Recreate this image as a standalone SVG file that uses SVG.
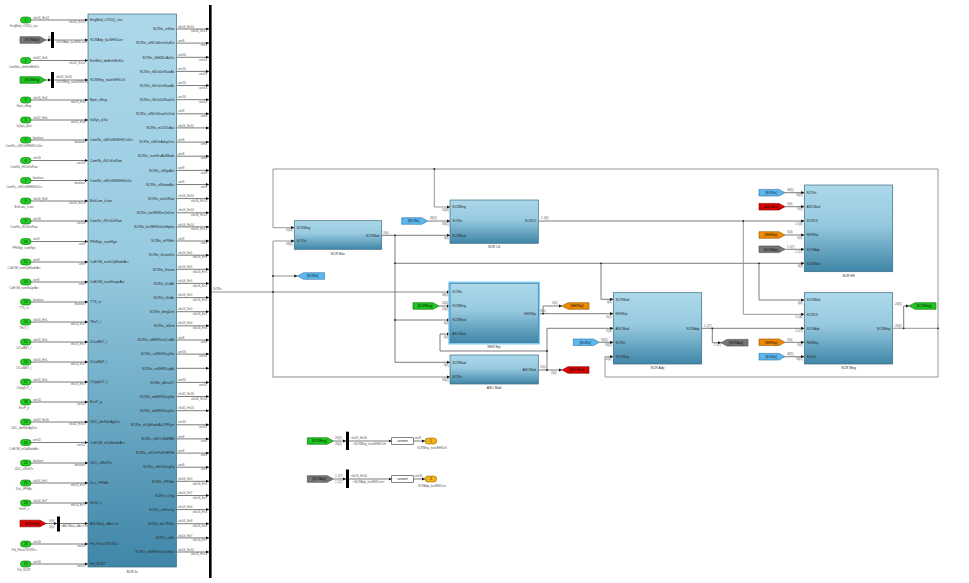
<svg xmlns="http://www.w3.org/2000/svg" xmlns:xlink="http://www.w3.org/1999/xlink" width="969" height="583" viewBox="0 0 969 583">
<style>
.t{font-family:"Liberation Sans",Arial,sans-serif;font-size:3.4px;fill:#2a2a2a}
.s{font-family:"Liberation Sans",Arial,sans-serif;font-size:2.9px;fill:#555}
.k{font-family:"Liberation Sans",Arial,sans-serif;font-size:3.2px;fill:#111}
.e{text-anchor:end}
.m{text-anchor:middle}
.w{stroke:#5a5a5a;stroke-width:0.8;fill:none}
.wa{marker-end:url(#ar)}
.fb{stroke:#8c8c8c;stroke-width:0.9;fill:none}
.bus{stroke:#b2b2b2;stroke-width:1.4;fill:none}
.blk{fill:url(#gb);stroke:#3b6b82;stroke-width:0.7}
.inp{fill:#22cc22;stroke:#0a7a0a;stroke-width:0.6}
.outp{fill:#f2b21a;stroke:#9a6a00;stroke-width:0.6}
.tg{stroke-width:0.6}
.green{fill:#1ec81e;stroke:#0a6a0a}
.gray{fill:#767676;stroke:#444}
.red{fill:#e00000;stroke:#7a0000}
.blue{fill:#5cb8f0;stroke:#2a6fa0}
.orange{fill:#f08a00;stroke:#905000}
.dot{fill:#222}
</style>
<defs>
<linearGradient id="gb" x1="0" y1="0" x2="0" y2="1">
<stop offset="0" stop-color="#acd8ea"/>
<stop offset="0.45" stop-color="#97cae0"/>
<stop offset="1" stop-color="#3f86a7"/>
</linearGradient>
<marker id="ar" viewBox="0 0 6 6" refX="6" refY="3" markerWidth="3.2" markerHeight="3.2" orient="auto" markerUnits="userSpaceOnUse">
<path d="M0,0L6,3L0,6Z" fill="#111"/>
</marker>
<path id="fr" d="M0,-3.3H20L26,0L20,3.3H0Z"/>
<path id="gt" d="M0,0L6,-3.3H27V3.3H6Z"/>
</defs>
<rect width="969" height="583" fill="#ffffff"/>

<!-- ================= CONNECTORS ================= -->
<g id="connectors">
<!-- inport wires -->
<path class="w wa" d="M31,20H88"/><path class="w wa" d="M31,60.5H88"/><path class="w wa" d="M31,100H88"/><path class="w wa" d="M31,120H88"/><path class="w wa" d="M31,140H88"/><path class="w wa" d="M31,160.5H88"/><path class="w wa" d="M31,180.5H88"/><path class="w wa" d="M31,201H88"/><path class="w wa" d="M31,221H88"/><path class="w wa" d="M31,241.5H88"/><path class="w wa" d="M31,262H88"/><path class="w wa" d="M31,282H88"/><path class="w wa" d="M31,302H88"/><path class="w wa" d="M31,322H88"/><path class="w wa" d="M31,342H88"/><path class="w wa" d="M31,362H88"/><path class="w wa" d="M31,382H88"/><path class="w wa" d="M31,402H88"/><path class="w wa" d="M31,422H88"/><path class="w wa" d="M31,442.5H88"/><path class="w wa" d="M31,463H88"/><path class="w wa" d="M31,483H88"/><path class="w wa" d="M31,503H88"/><path class="w wa" d="M31,544H88"/><path class="w wa" d="M31,564H88"/>
<!-- from-tag wires on left -->
<path class="w wa" d="M46,40H51"/><path class="bus wa" d="M54,40H88"/>
<path class="w wa" d="M46,80H51"/><path class="w wa" d="M54,80H88"/>
<path class="w wa" d="M46,523.5H57"/><path class="w wa" d="M60,523.5H88"/>
<g class="s">
<text x="33" y="18.5">sfix16_En14</text><text class="e" x="85" y="23.2">sfix16_En14</text>
<text x="48" y="38.5">[1]</text><text x="56" y="43">&lt;SCRAdp_facNH3Corr&gt;</text>
<text x="33" y="59">sfix32_En6</text><text class="e" x="85" y="63.7">sfix32_En10</text>
<text x="56" y="77.5">sfix32_En16</text><text x="56" y="83">&lt;SCRMng_stateNH3Ctrl&gt;</text>
<text x="33" y="98.5">sfix16_En4</text><text class="e" x="85" y="103.2">sfix16_En4</text>
<text x="33" y="118.5">sfix32_En6</text><text class="e" x="85" y="123.2">sfix32_En6</text>
<text x="33" y="138.5">boolean</text><text class="e" x="85" y="143.2">boolean</text>
<text x="33" y="159">uint16</text><text class="e" x="85" y="163.7">uint16</text>
<text x="33" y="179">boolean</text><text class="e" x="85" y="183.7">boolean</text>
<text x="33" y="199.5">sfix16_En8</text><text class="e" x="85" y="204.2">sfix16_En14</text>
<text x="33" y="219.5">uint16</text><text class="e" x="85" y="224.2">uint16</text>
<text x="33" y="240">uint8</text><text class="e" x="85" y="244.7">uint8</text>
<text x="33" y="260.5">uint8</text><text class="e" x="85" y="265.2">uint8</text>
<text x="33" y="280.5">uint8</text><text class="e" x="85" y="285.2">uint8</text>
<text x="33" y="300.5">boolean</text><text class="e" x="85" y="305.2">boolean</text>
<text x="33" y="320.5">sfix16_En5</text><text class="e" x="85" y="325.2">sfix16_En5</text>
<text x="33" y="340.5">sfix16_En5</text><text class="e" x="85" y="345.2">sfix16_En5</text>
<text x="33" y="360.5">sfix16_En5</text><text class="e" x="85" y="365.2">sfix16_En5</text>
<text x="33" y="380.5">sfix16_En5</text><text class="e" x="85" y="385.2">sfix16_En5</text>
<text x="33" y="400.5">uint16</text><text class="e" x="85" y="405.2">uint16</text>
<text x="33" y="420.5">sfix32_En16</text><text class="e" x="85" y="425.2">sfix32_En16</text>
<text x="33" y="441">uint32</text><text class="e" x="85" y="445.7">uint32</text>
<text x="33" y="461.5">boolean</text><text class="e" x="85" y="466.2">boolean</text>
<text x="33" y="481.5">sfix16_En5</text><text class="e" x="85" y="486.2">sfix16_En5</text>
<text x="33" y="501.5">sfix16_En7</text><text class="e" x="85" y="506.2">sfix16_En7</text>
<text x="49" y="521.5">S(0)</text><text x="49" y="528">S(0)</text><text x="61" y="527">&lt;ASCMod_stAscOx&gt;</text>
<text x="33" y="542.5">uint16</text><text class="e" x="85" y="547.2">uint16</text>
<text x="33" y="562.5">uint16</text><text class="e" x="85" y="567.2">uint16</text>
</g>
<!-- output wires to bus bar -->
<path class="w wa" d="M176.5,29H209"/><path class="w wa" d="M176.5,43.1H209"/><path class="w wa" d="M176.5,57.3H209"/><path class="w wa" d="M176.5,71.4H209"/><path class="w wa" d="M176.5,85.5H209"/><path class="w wa" d="M176.5,99.7H209"/><path class="w wa" d="M176.5,113.8H209"/><path class="w wa" d="M176.5,127.9H209"/><path class="w wa" d="M176.5,142.1H209"/><path class="w wa" d="M176.5,156.2H209"/><path class="w wa" d="M176.5,170.4H209"/><path class="w wa" d="M176.5,184.5H209"/><path class="w wa" d="M176.5,198.6H209"/><path class="w wa" d="M176.5,212.8H209"/><path class="w wa" d="M176.5,226.9H209"/><path class="w wa" d="M176.5,241H209"/><path class="w wa" d="M176.5,255.2H209"/><path class="w wa" d="M176.5,269.3H209"/><path class="w wa" d="M176.5,283.4H209"/><path class="w wa" d="M176.5,297.6H209"/><path class="w wa" d="M176.5,311.7H209"/><path class="w wa" d="M176.5,325.8H209"/><path class="w wa" d="M176.5,340H209"/><path class="w wa" d="M176.5,354.1H209"/><path class="w wa" d="M176.5,368.3H209"/><path class="w wa" d="M176.5,382.4H209"/><path class="w wa" d="M176.5,396.5H209"/><path class="w wa" d="M176.5,410.7H209"/><path class="w wa" d="M176.5,424.8H209"/><path class="w wa" d="M176.5,438.9H209"/><path class="w wa" d="M176.5,453.1H209"/><path class="w wa" d="M176.5,467.2H209"/><path class="w wa" d="M176.5,481.3H209"/><path class="w wa" d="M176.5,495.5H209"/><path class="w wa" d="M176.5,509.6H209"/><path class="w wa" d="M176.5,523.7H209"/><path class="w wa" d="M176.5,537.9H209"/><path class="w wa" d="M176.5,552H209"/>
<g class="s">
<text x="178" y="27.6">sfix16_En14</text><text class="e" x="207" y="32.2">sfix16_En14</text>
<text x="178" y="41.7">uint8</text><text class="e" x="207" y="46.3">uint8</text>
<text x="178" y="55.9">uint16</text><text class="e" x="207" y="60.5">uint16</text>
<text x="178" y="70">uint16</text><text class="e" x="207" y="74.6">uint16</text>
<text x="178" y="84.1">uint16</text><text class="e" x="207" y="88.7">uint16</text>
<text x="178" y="98.3">uint16</text><text class="e" x="207" y="102.9">uint16</text>
<text x="178" y="112.4">uint8</text><text class="e" x="207" y="117">uint8</text>
<text x="178" y="126.5">sfix16_En12</text>
<text x="178" y="140.7">uint8</text><text class="e" x="207" y="145.3">uint8</text>
<text x="178" y="154.8">uint8</text><text class="e" x="207" y="159.4">uint8</text>
<text x="178" y="169">uint8</text><text class="e" x="207" y="173.6">uint8</text>
<text x="178" y="183.1">uint8</text><text class="e" x="207" y="187.7">uint8</text>
<text x="178" y="197.2">sfix16_En14</text><text class="e" x="207" y="201.8">sfix16_En14</text>
<text x="178" y="211.4">sfix16_En14</text><text class="e" x="207" y="216">sfix16_En14</text>
<text x="178" y="225.5">sfix16_En14</text><text class="e" x="207" y="230.1">sfix16_En14</text>
<text x="178" y="239.6">uint8</text><text class="e" x="207" y="244.2">uint8</text>
<text x="178" y="253.8">sfix16_En5</text><text class="e" x="207" y="258.4">sfix16_En5</text>
<text x="178" y="267.9">sfix16_En5</text><text class="e" x="207" y="272.5">sfix16_En5</text>
<text x="178" y="282">sfix16_En5</text><text class="e" x="207" y="286.6">sfix16_En5</text>
<text x="178" y="296.2">sfix16_En5</text><text class="e" x="207" y="300.8">sfix16_En5</text>
<text x="178" y="310.3">sfix16_En5</text><text class="e" x="207" y="314.9">sfix16_En5</text>
<text x="178" y="324.4">sfix16_En4</text><text class="e" x="207" y="329">sfix16_En4</text>
<text x="178" y="338.6">uint8</text><text class="e" x="207" y="343.2">uint8</text>
<text x="178" y="352.7">uint16</text><text class="e" x="207" y="357.3">uint16</text>
<text x="178" y="381">uint32</text><text class="e" x="207" y="385.6">uint32</text>
<text x="178" y="395.1">sfix32_En16</text><text class="e" x="207" y="399.7">sfix32_En16</text>
<text x="178" y="409.3">sfix32_En16</text>
<text x="178" y="423.4">uint32</text><text class="e" x="207" y="428">uint32</text>
<text x="178" y="437.5">uint8</text><text class="e" x="207" y="442.1">uint8</text>
<text x="178" y="451.7">uint8</text><text class="e" x="207" y="456.3">uint8</text>
<text x="178" y="465.8">uint8</text><text class="e" x="207" y="470.4">uint8</text>
<text x="178" y="479.9">sfix16_En5</text><text class="e" x="207" y="484.5">sfix16_En5</text>
<text x="178" y="494.1">sfix16_En7</text><text class="e" x="207" y="498.7">sfix16_En7</text>
<text x="178" y="508.2">sfix16_En4</text><text class="e" x="207" y="512.8">sfix16_En4</text>
<text x="178" y="522.3">sfix16_En8</text><text class="e" x="207" y="526.9">sfix16_En8</text>
<text x="178" y="536.5">sfix16_En7</text><text class="e" x="207" y="541.1">sfix16_En7</text>
<text x="178" y="550.6">sfix16_En14</text><text class="e" x="207" y="555.2">sfix16_En14</text>
</g>

<!-- SCRIn bus -->
<path class="bus" d="M211.5,292H273"/>
<path class="bus wa" d="M273,292H450"/>
<path class="bus wa" d="M273,241V377H450"/>
<path class="bus wa" d="M273,241H294.3"/>
<path class="bus wa" d="M273,276H297.5"/>
<circle class="dot" cx="273" cy="276" r="0.9"/><circle class="dot" cx="273" cy="292" r="0.9"/>
<text class="s" x="213" y="290.2">SCRIn</text>

<!-- SCRMng feedback -->
<path class="fb wa" d="M892.7,328.3H938V169H273V227.7H294.3"/>
<path class="fb wa" d="M434.3,169V207H450"/>
<path class="fb wa" d="M938,328.3V377H605V356.7H613.3"/>
<path class="w wa" d="M903.7,328.3V306H909"/>
<circle class="dot" cx="434.3" cy="169" r="0.9"/><circle class="dot" cx="938" cy="328.3" r="0.9"/><circle class="dot" cx="903.7" cy="328.3" r="0.9"/>

<!-- SCRMod from SCR Moc -->
<path class="w wa" d="M381.7,235.3H450"/>
<path class="w wa" d="M395,235.3V362.3H450"/>
<path class="w wa" d="M395,320H450"/>
<path class="w wa" d="M395,263.3H804.3"/>
<path class="w wa" d="M601,263.3V299.3H613.3"/>
<path class="w wa" d="M759,263.3V300H804.3"/>
<circle class="dot" cx="395" cy="235.3" r="0.9"/><circle class="dot" cx="395" cy="263.3" r="0.9"/><circle class="dot" cx="395" cy="320" r="0.9"/><circle class="dot" cx="601" cy="263.3" r="0.9"/><circle class="dot" cx="759" cy="263.3" r="0.9"/>

<!-- SCRCtl -->
<path class="w wa" d="M538.3,221H804.3"/>
<path class="fb wa" d="M743.3,221V314.3H804.3"/>
<circle class="dot" cx="743.3" cy="221" r="0.9"/>

<!-- NH3Stp -->
<path class="w wa" d="M538.3,313.7H613.3"/>
<path class="w wa" d="M543,313.7V306H562"/>
<circle class="dot" cx="543" cy="313.7" r="0.9"/>

<!-- ASCMod -->
<path class="w wa" d="M538.3,370H562"/>
<path class="w wa" d="M547,370V328.3H613.3"/>
<path class="w wa" d="M547,351H440V334H450"/>
<circle class="dot" cx="547" cy="370" r="0.9"/><circle class="dot" cx="547" cy="351" r="0.9"/>

<!-- SCRAdp -->
<path class="w wa" d="M701.7,328.3H804.3"/>
<path class="w wa" d="M712.3,328.3V342.7H721"/>
<circle class="dot" cx="712.3" cy="328.3" r="0.9"/>

<!-- From tag wires in middle/right -->
<path class="w wa" d="M427.7,221H450"/>
<path class="w wa" d="M439,306H450"/>
<path class="w wa" d="M599.3,342.3H613.3"/>
<path class="w wa" d="M785,192.7H804.3"/>
<path class="w wa" d="M785,206.7H804.3"/>
<path class="w wa" d="M785,235H804.3"/>
<path class="w wa" d="M785,249.3H804.3"/>
<path class="w wa" d="M785,342.3H804.3"/>
<path class="w wa" d="M785,356.7H804.3"/>

<g class="s">
<text class="e" x="292.5" y="231">20[0]</text><text class="e" x="292.5" y="244.5">36[5]</text><text x="383" y="233.5">X(0)</text>
<text class="e" x="448.5" y="210.5">20[0]</text><text x="430" y="219.3">36[5]</text><text class="e" x="448.5" y="225">36[5]</text><text class="e" x="448.5" y="239">0[0]</text><text x="541" y="219.3">1.1(6)</text>
<text class="e" x="448.5" y="295.5">36[5]</text><text class="e" x="448.5" y="304">20[0]</text><text class="e" x="448.5" y="309.5">20[0]</text><text class="e" x="448.5" y="323.5">0[0]</text><text class="e" x="448.5" y="337.5">0[0]</text>
<text x="540" y="311.8">X(0)</text><text x="552" y="304.3">X(0)</text>
<text class="e" x="448.5" y="365.8">0[0]</text><text class="e" x="448.5" y="380.5">36[5]</text><text x="540" y="368.3">X(0)</text><text x="551" y="373.5">X(0)</text>
<text class="e" x="611.5" y="302.8">0[0]</text><text class="e" x="611.5" y="317.5">X(0)</text><text class="e" x="611.5" y="331.8">X(0)</text><text x="601" y="340.6">36[5]</text><text class="e" x="611.5" y="345.8">36[5]</text><text class="e" x="611.5" y="360.2">20[0]</text>
<text x="704" y="326.6">1.1(7)</text><text x="713.5" y="346">1.1(7)</text>
<text x="787" y="191">36[5]</text><text class="e" x="802.5" y="196.2">36[5]</text>
<text x="787" y="205">X(0)</text><text class="e" x="802.5" y="210.2">X(0)</text>
<text class="e" x="802.5" y="224.5">1.1(6)</text>
<text x="787" y="233.3">X(0)</text><text class="e" x="802.5" y="238.5">X(0)</text>
<text x="787" y="247.6">1.1(7)</text><text class="e" x="802.5" y="252.8">1.1(7)</text>
<text class="e" x="802.5" y="266.8">0[0]</text>
<text class="e" x="802.5" y="303.5">0[0]</text><text class="e" x="802.5" y="317.8">1.1(6)</text><text class="e" x="802.5" y="331.8">1.1(7)</text>
<text x="787" y="340.6">X(0)</text><text class="e" x="802.5" y="345.8">X(0)</text>
<text x="787" y="355">36[5]</text><text class="e" x="802.5" y="360.2">36[5]</text>
<text x="895" y="326.6">20[0]</text><text x="895" y="304.5">20[0]</text>
</g>

<!-- bottom section wires -->
<path class="w wa" d="M333.3,441H346"/>
<path class="w wa" d="M349.2,441H391.7"/>
<path class="w wa" d="M413.3,441H425"/>
<path class="w wa" d="M333.3,479H346"/>
<path class="w wa" d="M349.2,479H391.7"/>
<path class="w wa" d="M413.3,479H425"/>
<g class="s">
<text x="335" y="439.3">20[0]</text><text x="335" y="445">20[0]</text><text x="351" y="439.3">sfix32_En16</text><text x="353" y="445">&lt;SCRMng_stateNH3Ctrl&gt;</text>
<text x="414.5" y="439.3">uint8</text>
<text x="335" y="477.3">1.1(7)</text><text x="335" y="483">1.1(7)</text><text x="351" y="477.3">sfix16_En14</text><text x="353" y="483">&lt;SCRAdp_facNH3Corr&gt;</text>
<text x="414.5" y="477.3">uint16</text>
</g>
</g>

<!-- ================= NODES ================= -->
<!-- bus bar -->
<g id="busbar"><rect x="209" y="5" width="2.6" height="573" fill="#000"/></g>

<!-- SCR In subsystem -->
<g id="scr_in">
<rect class="blk" x="88" y="14" width="88.5" height="553"/>
<text class="t m" x="132" y="572.5">SCR In</text>
<g class="t">
<text x="90" y="21.2">EngMod_rO2DQ_nac</text>
<text x="90" y="41.2">SCRAdp_facNH3Corr</text>
<text x="90" y="61.7">ExhMnf_dmExhMnfDs</text>
<text x="90" y="81.2">SCRMng_stateNH3Ctrl</text>
<text x="90" y="101.2">Epm_nEng</text>
<text x="90" y="121.2">InjSys_qTot</text>
<text x="90" y="141.2">ComRx_stNOxWtNH3CtsDs</text>
<text x="90" y="161.7">ComRx_rNOxDsRaw</text>
<text x="90" y="181.7">ComRx_stNOxWtNH3UsDs</text>
<text x="90" y="202.2">ExhLam_rLam</text>
<text x="90" y="222.2">ComRx_rNOxUsRaw</text>
<text x="90" y="242.7">PFltRgn_numRgn</text>
<text x="90" y="263.2">CoEOM_numOpModeAct</text>
<text x="90" y="283.2">CoEOM_numStageAct</text>
<text x="90" y="303.2">TTS_st</text>
<text x="90" y="323.2">TExT_t</text>
<text x="90" y="343.2">UCatBlkT_t</text>
<text x="90" y="363.2">UCatMdT_t</text>
<text x="90" y="383.2">CDpgDsT_t</text>
<text x="90" y="403.2">EnvP_p</text>
<text x="90" y="423.2">UDC_dmRdcAgDos</text>
<text x="90" y="443.7">CoEOM_stOpModeAct</text>
<text x="90" y="464.2">UDC_stRefOn</text>
<text x="90" y="484.2">Dcs_tPFltAs</text>
<text x="90" y="504.2">VehV_v</text>
<text x="90" y="524.7">ASCMod_stAscOx</text>
<text x="90" y="545.2">Fid_PlausTSCRDs</text>
<text x="90" y="565.2">Fid_SCRT</text>
</g>
<g class="t e">
<text x="174.5" y="30.2">SCRIn_vnEan</text>
<text x="174.5" y="44.3">SCRIn_stNOxSnsrUsdDs</text>
<text x="174.5" y="58.5">SCRIn_rNH3DsAnDs</text>
<text x="174.5" y="72.6">SCRIn_rNOxDsRawAs</text>
<text x="174.5" y="86.7">SCRIn_rNOxUsRawAs</text>
<text x="174.5" y="100.9">SCRIn_rNOxDsRawUs</text>
<text x="174.5" y="115">SCRIn_stNOxSnsrDsUsd</text>
<text x="174.5" y="129.1">SCRIn_mO2DsAct</text>
<text x="174.5" y="143.3">SCRIn_stNOxAdapDsu</text>
<text x="174.5" y="157.4">SCRIn_numSrvAvlMode</text>
<text x="174.5" y="171.6">SCRIn_stRgnAct</text>
<text x="174.5" y="185.7">SCRIn_stRoomAct</text>
<text x="174.5" y="199.8">SCRIn_rwUsRaw</text>
<text x="174.5" y="214">SCRIn_facNH3DsOnDsn</text>
<text x="174.5" y="228.1">SCRIn_facNH3DsUsHydro</text>
<text x="174.5" y="242.2">SCRIn_stPfltEn</text>
<text x="174.5" y="256.4">SCRIn_tDsemDs</text>
<text x="174.5" y="270.5">SCRIn_tDsem</text>
<text x="174.5" y="284.6">SCRIn_tDsAh</text>
<text x="174.5" y="298.8">SCRIn_tDsAs</text>
<text x="174.5" y="312.9">SCRIn_dmgDen</text>
<text x="174.5" y="327">SCRIn_stSrm</text>
<text x="174.5" y="341.2">SCRIn_stNH3TestCurAtl</text>
<text x="174.5" y="355.3">SCRIn_ratNH3DsgSat</text>
<text x="174.5" y="369.5">SCRIn_ratNH3DsgAs</text>
<text x="174.5" y="383.6">SCRIn_dEnvDY</text>
<text x="174.5" y="397.7">SCRIn_mdNH3DsgSet</text>
<text x="174.5" y="411.9">SCRIn_mdNH3DsgSrv</text>
<text x="174.5" y="426">SCRIn_stOpModeAcDPFlyer</text>
<text x="174.5" y="440.1">SCRIn_stECOMdPAN</text>
<text x="174.5" y="454.3">SCRIn_stXDsPhsPdRfRb</text>
<text x="174.5" y="468.4">SCRIn_stNOxDsgRy</text>
<text x="174.5" y="482.5">SCRIn_tPFltAs</text>
<text x="174.5" y="496.7">SCRIn_vDsg</text>
<text x="174.5" y="510.8">SCRIn_rmFacDy</text>
<text x="174.5" y="524.9">SCRIn_durTFdsn</text>
<text x="174.5" y="539.1">SCRIn_stSrt</text>
<text x="174.5" y="553.2">SCRIn_stNH3SnsDsnEstr</text>
</g>
</g>

<!-- Inports -->
<g id="in1" transform="translate(0,20)"><rect class="inp" x="20.5" y="-3" width="10.5" height="6" rx="3"/><text class="k m" x="25.75" y="1.1">1</text><text class="s m" x="24" y="7">EngMod_rO2DQ_nac</text></g>
<g id="in2" transform="translate(0,60.5)"><rect class="inp" x="20.5" y="-3" width="10.5" height="6" rx="3"/><text class="k m" x="25.75" y="1.1">2</text><text class="s m" x="24" y="7">ComNox_dmExhMnfDs</text></g>
<g id="in3" transform="translate(0,100)"><rect class="inp" x="20.5" y="-3" width="10.5" height="6" rx="3"/><text class="k m" x="25.75" y="1.1">3</text><text class="s m" x="24" y="7">Epm_nEng</text></g>
<g id="in4" transform="translate(0,120)"><rect class="inp" x="20.5" y="-3" width="10.5" height="6" rx="3"/><text class="k m" x="25.75" y="1.1">4</text><text class="s m" x="24" y="7">InjSys_qTot</text></g>
<g id="in5" transform="translate(0,140)"><rect class="inp" x="20.5" y="-3" width="10.5" height="6" rx="3"/><text class="k m" x="25.75" y="1.1">5</text><text class="s m" x="24" y="7">ComRx_stNOxWtNH3CtsDs</text></g>
<g id="in6" transform="translate(0,160.5)"><rect class="inp" x="20.5" y="-3" width="10.5" height="6" rx="3"/><text class="k m" x="25.75" y="1.1">6</text><text class="s m" x="24" y="7">ComRx_rNOxDsRaw</text></g>
<g id="in7" transform="translate(0,180.5)"><rect class="inp" x="20.5" y="-3" width="10.5" height="6" rx="3"/><text class="k m" x="25.75" y="1.1">7</text><text class="s m" x="24" y="7">ComRx_stNOxWtNH3UsDs</text></g>
<g id="in8" transform="translate(0,201)"><rect class="inp" x="20.5" y="-3" width="10.5" height="6" rx="3"/><text class="k m" x="25.75" y="1.1">8</text><text class="s m" x="24" y="7">ExhLam_rLam</text></g>
<g id="in9" transform="translate(0,221)"><rect class="inp" x="20.5" y="-3" width="10.5" height="6" rx="3"/><text class="k m" x="25.75" y="1.1">9</text><text class="s m" x="24" y="7">ComRx_rNOxUsRaw</text></g>
<g id="in10" transform="translate(0,241.5)"><rect class="inp" x="20.5" y="-3" width="10.5" height="6" rx="3"/><text class="k m" x="25.75" y="1.1">10</text><text class="s m" x="24" y="7">PFltRgn_numRgn</text></g>
<g id="in11" transform="translate(0,262)"><rect class="inp" x="20.5" y="-3" width="10.5" height="6" rx="3"/><text class="k m" x="25.75" y="1.1">11</text><text class="s m" x="24" y="7">CoEOM_numOpModeAct</text></g>
<g id="in12" transform="translate(0,282)"><rect class="inp" x="20.5" y="-3" width="10.5" height="6" rx="3"/><text class="k m" x="25.75" y="1.1">12</text><text class="s m" x="24" y="7">CoEOM_numStageAct</text></g>
<g id="in13" transform="translate(0,302)"><rect class="inp" x="20.5" y="-3" width="10.5" height="6" rx="3"/><text class="k m" x="25.75" y="1.1">13</text><text class="s m" x="24" y="7">TTS_st</text></g>
<g id="in14" transform="translate(0,322)"><rect class="inp" x="20.5" y="-3" width="10.5" height="6" rx="3"/><text class="k m" x="25.75" y="1.1">14</text><text class="s m" x="24" y="7">TExT_t</text></g>
<g id="in15" transform="translate(0,342)"><rect class="inp" x="20.5" y="-3" width="10.5" height="6" rx="3"/><text class="k m" x="25.75" y="1.1">15</text><text class="s m" x="24" y="7">UCatBlkT_t</text></g>
<g id="in16" transform="translate(0,362)"><rect class="inp" x="20.5" y="-3" width="10.5" height="6" rx="3"/><text class="k m" x="25.75" y="1.1">16</text><text class="s m" x="24" y="7">UCatMdT_t</text></g>
<g id="in17" transform="translate(0,382)"><rect class="inp" x="20.5" y="-3" width="10.5" height="6" rx="3"/><text class="k m" x="25.75" y="1.1">17</text><text class="s m" x="24" y="7">CDpgDsT_t</text></g>
<g id="in18" transform="translate(0,402)"><rect class="inp" x="20.5" y="-3" width="10.5" height="6" rx="3"/><text class="k m" x="25.75" y="1.1">18</text><text class="s m" x="24" y="7">EnvP_p</text></g>
<g id="in19" transform="translate(0,422)"><rect class="inp" x="20.5" y="-3" width="10.5" height="6" rx="3"/><text class="k m" x="25.75" y="1.1">19</text><text class="s m" x="24" y="7">UDC_dmRdcAgDos</text></g>
<g id="in20" transform="translate(0,442.5)"><rect class="inp" x="20.5" y="-3" width="10.5" height="6" rx="3"/><text class="k m" x="25.75" y="1.1">20</text><text class="s m" x="24" y="7">CoEOM_stOpModeAct</text></g>
<g id="in21" transform="translate(0,463)"><rect class="inp" x="20.5" y="-3" width="10.5" height="6" rx="3"/><text class="k m" x="25.75" y="1.1">21</text><text class="s m" x="24" y="7">UDC_stRefOn</text></g>
<g id="in22" transform="translate(0,483)"><rect class="inp" x="20.5" y="-3" width="10.5" height="6" rx="3"/><text class="k m" x="25.75" y="1.1">22</text><text class="s m" x="24" y="7">Dcs_tPFltAs</text></g>
<g id="in23" transform="translate(0,503)"><rect class="inp" x="20.5" y="-3" width="10.5" height="6" rx="3"/><text class="k m" x="25.75" y="1.1">23</text><text class="s m" x="24" y="7">VehV_v</text></g>
<g id="in24" transform="translate(0,544)"><rect class="inp" x="20.5" y="-3" width="10.5" height="6" rx="3"/><text class="k m" x="25.75" y="1.1">24</text><text class="s m" x="24" y="7">Fid_PlausTSCRDs</text></g>
<g id="in25" transform="translate(0,564)"><rect class="inp" x="20.5" y="-3" width="10.5" height="6" rx="3"/><text class="k m" x="25.75" y="1.1">25</text><text class="s m" x="24" y="7">Fid_SCRT</text></g>

<!-- Left from tags and bus selectors -->
<g id="from_scradp_l"><use xlink:href="#fr" x="20" y="40" class="tg gray"/><text class="k m" x="32" y="41.2">[SCRAdp]</text></g>
<g id="bsel_scradp"><rect x="51" y="32" width="3" height="16" fill="#000"/></g>
<g id="from_scrmng_l"><use xlink:href="#fr" x="20" y="80" class="tg green"/><text class="k m" x="32" y="81.2">[SCRMng]</text></g>
<g id="bsel_scrmng"><rect x="51" y="72" width="3" height="16" fill="#000"/></g>
<g id="from_ascmod_l"><use xlink:href="#fr" x="20" y="523.5" class="tg red"/><text class="k m" x="32" y="524.7">[ASCMod]</text></g>
<g id="bsel_ascmod"><rect x="57" y="516.5" width="3" height="15" fill="#000"/></g>

<!-- Middle subsystems -->
<g id="scr_moc">
<rect class="blk" x="294.3" y="220.7" width="87.4" height="28.6"/>
<text class="t" x="296.5" y="228.9">SCRMng</text><text class="t" x="296.5" y="242.2">SCRIn</text><text class="t e" x="379.5" y="236.5">SCRMod</text>
<text class="t m" x="338" y="254.5">SCR Moc</text>
</g>
<g id="scr_ctl">
<rect class="blk" x="450" y="200" width="88.3" height="43.3"/>
<text class="t" x="452.2" y="208.2">SCRMng</text><text class="t" x="452.2" y="222.2">SCRIn</text><text class="t" x="452.2" y="236.5">SCRMod</text><text class="t e" x="536" y="222.2">SCRCtl</text>
<text class="t m" x="494" y="248">SCR Ctl</text>
</g>
<g id="nh3_stp">
<rect x="449" y="282.3" width="90.3" height="61.4" fill="none" stroke="#7fd0ff" stroke-width="1.6"/>
<rect class="blk" x="450" y="283.3" width="88.3" height="59.4"/>
<text class="t" x="452.2" y="293.2">SCRIn</text><text class="t" x="452.2" y="307.2">SCRMng</text><text class="t" x="452.2" y="321.2">SCRMod</text><text class="t" x="452.2" y="335.2">ASCMod</text><text class="t e" x="536" y="314.9">NH3Stp</text>
<text class="t m" x="494" y="347.5">NH3 Stp</text>
</g>
<g id="asc_mod">
<rect class="blk" x="450" y="355" width="88.3" height="29"/>
<text class="t" x="452.2" y="363.5">SCRMod</text><text class="t" x="452.2" y="378.2">SCRIn</text><text class="t e" x="536" y="371.2">ASCMod</text>
<text class="t m" x="494" y="389">ASC Mod</text>
</g>
<g id="scr_adp">
<rect class="blk" x="613.3" y="292.7" width="88.4" height="71.3"/>
<text class="t" x="615.5" y="300.5">SCRMod</text><text class="t" x="615.5" y="314.9">NH3Stp</text><text class="t" x="615.5" y="329.5">ASCMod</text><text class="t" x="615.5" y="343.5">SCRIn</text><text class="t" x="615.5" y="357.9">SCRMng</text><text class="t e" x="699.5" y="329.5">SCRAdp</text>
<text class="t m" x="657.5" y="369">SCR Adp</text>
</g>
<g id="scr_eff">
<rect class="blk" x="804.3" y="185" width="88.4" height="86.7"/>
<text class="t" x="806.5" y="193.9">SCRIn</text><text class="t" x="806.5" y="207.9">ASCMod</text><text class="t" x="806.5" y="222.2">SCRCtl</text><text class="t" x="806.5" y="236.2">NH3Stp</text><text class="t" x="806.5" y="250.5">SCRAdp</text><text class="t" x="806.5" y="264.5">SCRMod</text>
<text class="t m" x="848.5" y="276.5">SCR Eff</text>
</g>
<g id="scr_mng">
<rect class="blk" x="804.3" y="292.7" width="88.4" height="71.3"/>
<text class="t" x="806.5" y="301.2">SCRMod</text><text class="t" x="806.5" y="315.5">SCRCtl</text><text class="t" x="806.5" y="329.5">SCRAdp</text><text class="t" x="806.5" y="343.5">NH3Stp</text><text class="t" x="806.5" y="357.9">SCRIn</text><text class="t e" x="890.5" y="329.5">SCRMng</text>
<text class="t m" x="848.5" y="369">SCR Mng</text>
</g>

<!-- Goto / From tags in the middle and right -->
<g id="goto_scrin"><use xlink:href="#gt" x="297.5" y="276" class="tg blue"/><text class="k m" x="312.5" y="277.2">[SCRIn]</text></g>
<g id="from_scrin_ctl"><use xlink:href="#fr" x="401.7" y="221" class="tg blue"/><text class="k m" x="413.7" y="222.2">[SCRIn]</text></g>
<g id="from_scrmng_stp"><use xlink:href="#fr" x="413" y="306" class="tg green"/><text class="k m" x="425" y="307.2">[SCRMng]</text></g>
<g id="goto_nh3stp"><use xlink:href="#gt" x="562" y="306" class="tg orange"/><text class="k m" x="577" y="307.2">[NH3Stp]</text></g>
<g id="goto_ascmod"><use xlink:href="#gt" x="562" y="370" class="tg red"/><text class="k m" x="577" y="371.2">[ASCMod]</text></g>
<g id="from_scrin_adp"><use xlink:href="#fr" x="573.3" y="342.3" class="tg blue"/><text class="k m" x="585.3" y="343.5">[SCRIn]</text></g>
<g id="goto_scradp"><use xlink:href="#gt" x="721" y="342.7" class="tg gray"/><text class="k m" x="736" y="343.9">[SCRAdp]</text></g>
<g id="from_scrin_eff"><use xlink:href="#fr" x="759" y="192.7" class="tg blue"/><text class="k m" x="771" y="193.9">[SCRIn]</text></g>
<g id="from_ascmod_eff"><use xlink:href="#fr" x="759" y="206.7" class="tg red"/><text class="k m" x="771" y="207.9">[ASCMod]</text></g>
<g id="from_nh3stp_eff"><use xlink:href="#fr" x="759" y="235" class="tg orange"/><text class="k m" x="771" y="236.2">[NH3Stp]</text></g>
<g id="from_scradp_eff"><use xlink:href="#fr" x="759" y="249.3" class="tg gray"/><text class="k m" x="771" y="250.5">[SCRAdp]</text></g>
<g id="from_nh3stp_mng"><use xlink:href="#fr" x="759" y="342.3" class="tg orange"/><text class="k m" x="771" y="343.5">[NH3Stp]</text></g>
<g id="from_scrin_mng"><use xlink:href="#fr" x="759" y="356.7" class="tg blue"/><text class="k m" x="771" y="357.9">[SCRIn]</text></g>
<g id="goto_scrmng"><use xlink:href="#gt" x="909" y="306" class="tg green"/><text class="k m" x="924" y="307.2">[SCRMng]</text></g>

<!-- Bottom section -->
<g id="from_scrmng_b"><use xlink:href="#fr" x="307.3" y="441" class="tg green"/><text class="k m" x="319.3" y="442.2">[SCRMng]</text></g>
<g id="bsel_b1"><rect x="346" y="431.7" width="3" height="18.3" fill="#000"/></g>
<g id="conv1"><rect x="391.7" y="437.7" width="21.6" height="6.8" fill="#fff" stroke="#333" stroke-width="0.6"/><text class="k m" x="402.5" y="442.2">convert</text></g>
<g id="out1"><rect class="outp" x="425" y="438" width="11.7" height="6" rx="3"/><text class="k m" x="430.8" y="442.2">1</text><text class="s m" x="432" y="448.8">SCRMng_stateNH3Ctrl</text></g>
<g id="from_scradp_b"><use xlink:href="#fr" x="307.3" y="479" class="tg gray"/><text class="k m" x="319.3" y="480.2">[SCRAdp]</text></g>
<g id="bsel_b2"><rect x="346" y="469.5" width="3" height="18.5" fill="#000"/></g>
<g id="conv2"><rect x="391.7" y="475.7" width="21.6" height="6.8" fill="#fff" stroke="#333" stroke-width="0.6"/><text class="k m" x="402.5" y="480.2">convert</text></g>
<g id="out2"><rect class="outp" x="425" y="476" width="11.7" height="6" rx="3"/><text class="k m" x="430.8" y="480.2">2</text><text class="s m" x="432" y="486.8">SCRAdp_facNH3Corr</text></g>
</svg>
